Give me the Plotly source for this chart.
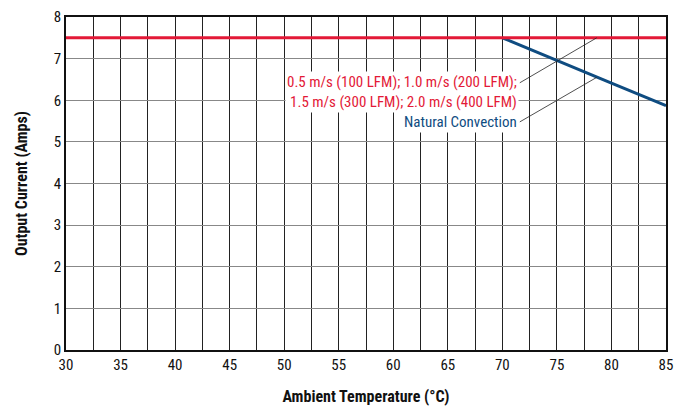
import plotly.graph_objects as go

# Data
temp_forced = [30, 85]
current_forced = [7.5, 7.5]
temp_natural = [70, 75, 80, 85]
current_natural = [7.5, 6.95, 6.41, 5.87]

forced_label = "0.5 m/s (100 LFM); 1.0 m/s (200 LFM);<br>1.5 m/s (300 LFM); 2.0 m/s (400 LFM)"
natural_label = "Natural Convection"

# leader lines: (x0, y0, x1, y1) in data units
leader_forced = [71.6, 6.42, 78.65, 7.5]
leader_natural = [71.6, 5.48, 78.65, 6.55]

x_ticks = [30, 35, 40, 45, 50, 55, 60, 65, 70, 75, 80, 85]
y_ticks = [0, 1, 2, 3, 4, 5, 6, 7, 8]

RED = "#e31937"
BLUE = "#0f4c81"
FONT = "Liberation Sans Narrow, Roboto Condensed, Arial Narrow, sans-serif"

fig = go.Figure()
fig.add_trace(go.Scatter(x=temp_natural, y=current_natural, mode="lines",
                         line=dict(color=BLUE, width=3), hoverinfo="skip"))
fig.add_trace(go.Scatter(x=temp_forced, y=current_forced, mode="lines",
                         line=dict(color=RED, width=3), hoverinfo="skip"))

for ln in (leader_forced, leader_natural):
    fig.add_shape(type="line", x0=ln[0], y0=ln[1], x1=ln[2], y1=ln[3],
                  xref="x", yref="y", line=dict(color="#222222", width=0.8))

fig.add_annotation(x=71.5, y=6.2, xref="x", yref="y", text=forced_label,
                   showarrow=False, xanchor="right", yanchor="middle", align="right",
                   font=dict(family=FONT, size=15, color=RED), bgcolor="white",
                   borderpad=1)
fig.add_annotation(x=71.5, y=5.48, xref="x", yref="y", text=natural_label,
                   showarrow=False, xanchor="right", yanchor="middle", align="right",
                   font=dict(family=FONT, size=15, color=BLUE), bgcolor="white",
                   borderpad=1)

fig.update_layout(
    width=674, height=406,
    margin=dict(l=66, r=8, t=17, b=56, autoexpand=False),
    paper_bgcolor="white", plot_bgcolor="white",
    showlegend=False,
    font=dict(family=FONT, size=15, color="#111111"),
    xaxis=dict(range=[30, 85], tickvals=x_ticks, ticks="", showgrid=True,
               gridcolor="#222222", gridwidth=1,
               minor=dict(dtick=2.5, tick0=30, showgrid=True, gridcolor="#222222", gridwidth=1),
               showline=True, linecolor="#111111", linewidth=1.5, mirror=True,
               zeroline=False, automargin=False,
               title=dict(text="<b>Ambient Temperature (°C)</b>", font=dict(family=FONT, size=16), standoff=22)),
    yaxis=dict(range=[0, 8], tickvals=y_ticks, ticks="", showgrid=True,
               gridcolor="#888888", gridwidth=1,
               showline=True, linecolor="#111111", linewidth=1.5, mirror=True,
               zeroline=False, automargin=False,
               title=dict(text="<b>Output Current (Amps)</b>", font=dict(family=FONT, size=16), standoff=22)),
)

fig.write_html("out.html", config={"displayModeBar": False},
               post_script="document.body.style.margin='0';")
